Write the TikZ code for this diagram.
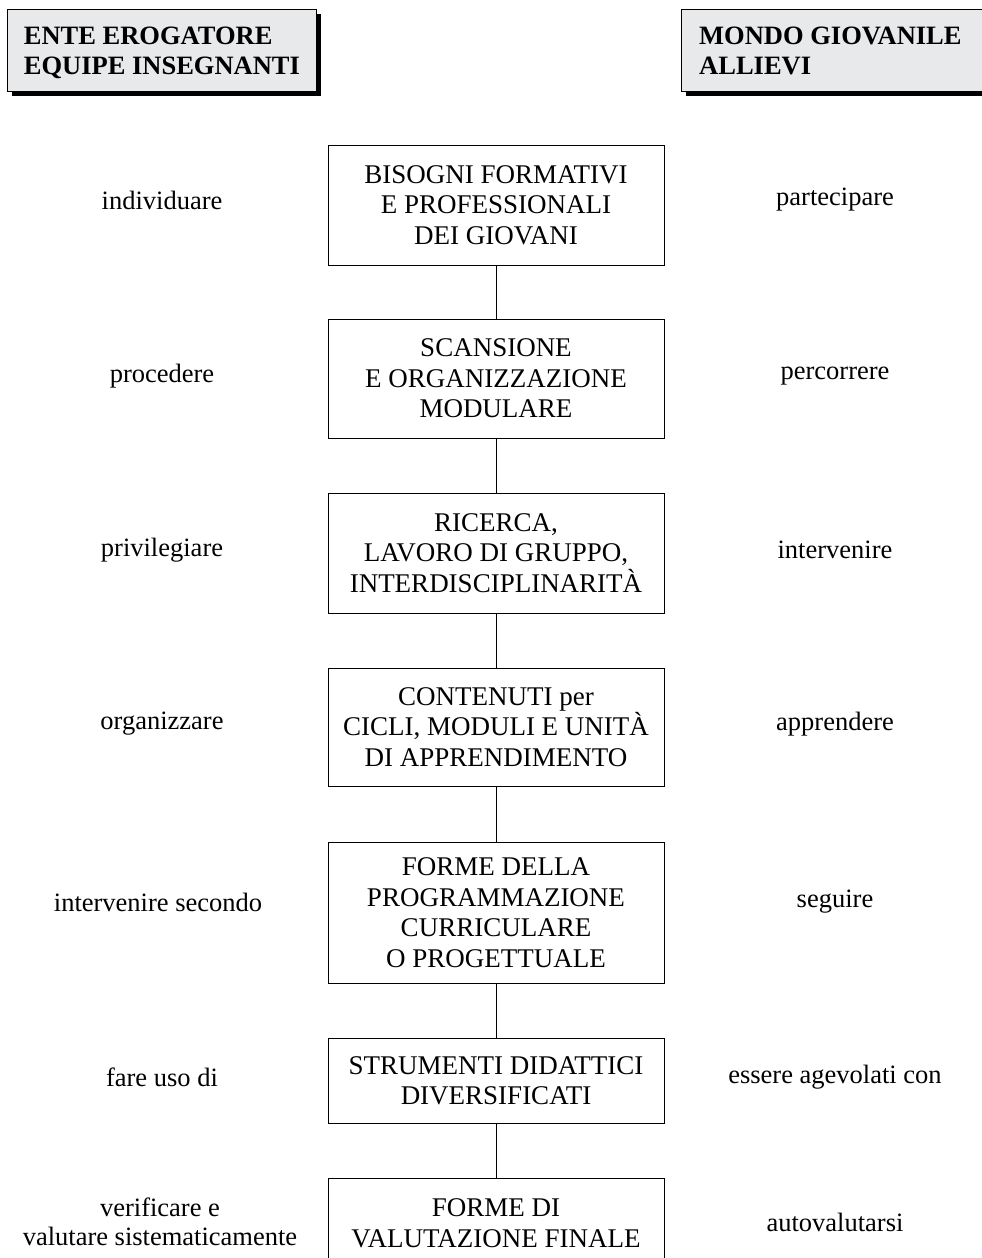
\documentclass[tikz,border=0pt]{standalone}
\usepackage{fontspec}
\setmainfont{Liberation Serif}
\usetikzlibrary{shadows}
\definecolor{hdrfill}{RGB}{232,233,235}
\begin{document}
\begin{tikzpicture}[x=1pt,y=-1pt,
  stepbox/.style={draw, line width=0.9pt, minimum width=336pt, align=center,
    inner sep=0pt, text depth=-2pt, font=\fontsize{27}{30.5}\selectfont},
  hdrbox/.style={draw, line width=0.8pt, fill=hdrfill, inner sep=0pt,
    minimum height=82pt,
    drop shadow={shadow xshift=5pt, shadow yshift=-5pt, fill=black, opacity=1}},
  hdrtext/.style={align=left, inner sep=0pt, text depth=-3pt,
    font=\fontsize{26.5}{30}\selectfont\bfseries},
  side/.style={align=center, font=\fontsize{26.5}{29}\selectfont},
  link/.style={line width=0.9pt}]
\useasboundingbox (0,0) rectangle (982,1258);
\clip (0,0) rectangle (982,1258);
\fill[white] (0,0) rectangle (982,1258);

% headers
\node[hdrbox, anchor=north west, minimum width=309pt] (hl) at (7,9) {};
\node[hdrtext] (hlt) at (hl.center) {ENTE EROGATORE\\EQUIPE INSEGNANTI};
\node[hdrbox, anchor=north west, minimum width=330pt] (hr) at (681,9) {};
\node[hdrtext, anchor=west] (hrt) at ([xshift=18pt]hr.west) {MONDO GIOVANILE\\ALLIEVI};

% central boxes
\node[stepbox, minimum height=120pt] (b1) at (496,205)
  {BISOGNI FORMATIVI\\E PROFESSIONALI\\DEI GIOVANI};
\node[stepbox, minimum height=119pt] (b2) at (496,378.5)
  {SCANSIONE\\E ORGANIZZAZIONE\\MODULARE};
\node[stepbox, minimum height=120pt] (b3) at (496,553)
  {RICERCA,\\LAVORO DI GRUPPO,\\INTERDISCIPLINARITÀ};
\node[stepbox, minimum height=118pt] (b4) at (496,727)
  {CONTENUTI per\\CICLI, MODULI E UNITÀ\\DI APPRENDIMENTO};
\node[stepbox, minimum height=141pt] (b5) at (496,912.5)
  {FORME DELLA\\PROGRAMMAZIONE\\CURRICULARE\\O PROGETTUALE};
\node[stepbox, minimum height=85pt] (b6) at (496,1080.5)
  {STRUMENTI DIDATTICI\\DIVERSIFICATI};
\node[stepbox, minimum height=90pt] (b7) at (496,1223)
  {FORME DI\\VALUTAZIONE FINALE};

% connectors
\draw[link] (b1.south) -- (b2.north);
\draw[link] (b2.south) -- (b3.north);
\draw[link] (b3.south) -- (b4.north);
\draw[link] (b4.south) -- (b5.north);
\draw[link] (b5.south) -- (b6.north);
\draw[link] (b6.south) -- (b7.north);

% left labels
\node[side] (l1) at (162,200) {individuare};
\node[side] (l2) at (162,376) {procedere};
\node[side] (l3) at (162,550) {privilegiare};
\node[side] (l4) at (162,724) {organizzare};
\node[side] (l5) at (158,902) {intervenire secondo};
\node[side] (l6) at (162,1077) {fare uso di};
\node[side] (l7) at (160,1222) {verificare e\\valutare sistematicamente};

% right labels
\node[side] (r1) at (835,200) {partecipare};
\node[side] (r2) at (835,376) {percorrere};
\node[side] (r3) at (835,550) {intervenire};
\node[side] (r4) at (835,724) {apprendere};
\node[side] (r5) at (835,902) {seguire};
\node[side] (r6) at (835,1077) {essere agevolati con};
\node[side] (r7) at (835,1222) {autovalutarsi};
\end{tikzpicture}
\end{document}
